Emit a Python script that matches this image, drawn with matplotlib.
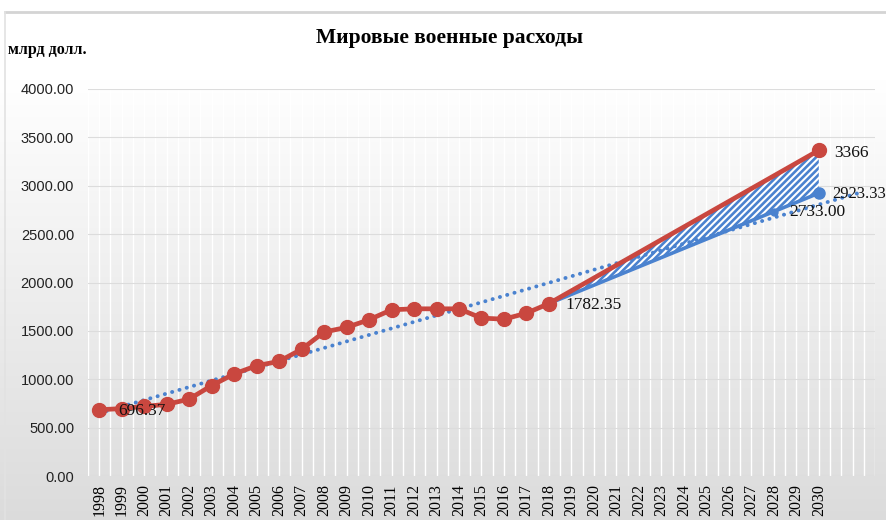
import numpy as np
import matplotlib
matplotlib.use("Agg")
import matplotlib.pyplot as plt
from matplotlib.patches import Rectangle

plt.rcParams["hatch.linewidth"] = 1.9

# ---- data ----
years = list(range(1998, 2031))
tick_labels = [str(y) for y in years]

red_years = list(range(1998, 2019)) + [2030]
red_values = [685, 696.37, 720, 740, 795, 935, 1055, 1140, 1185, 1310,
              1488, 1536, 1615, 1718, 1728, 1728, 1728, 1632, 1621, 1683,
              1782.35, 3366]

blue_years = [2018, 2028, 2030]
blue_values = [1782.35, 2733.00, 2923.33]

trend_years = [1998, 2032]
trend_values = [650, 2940]

RED = "#C9473F"
BLUE = "#4A82CF"

fig = plt.figure(figsize=(8.86, 5.2), dpi=100)

# background gradient
bg = fig.add_axes([0, 0, 1, 1], zorder=-10)
ys = np.linspace(0, 1, 520)
g = np.where(ys < 80 / 520, 1.0, 1.0 - (ys - 80 / 520) / (1 - 80 / 520) * 0.14)
img = np.repeat(g[:, None], 10, axis=1)
bg.imshow(np.dstack([img, img, img]), aspect="auto", extent=[0, 1, 0, 1], origin="upper")
bg.add_patch(Rectangle((0, 1 - 12 / 520), 1, 12 / 520, color="white", transform=bg.transAxes))
bg.plot([5 / 886, 1], [1 - 12 / 520, 1 - 12 / 520], color="#d4d4d4", lw=2, transform=bg.transAxes)
bg.plot([5 / 886, 5 / 886], [0, 1 - 12 / 520], color="#e2e2e2", lw=1.2, transform=bg.transAxes)
bg.set_xlim(0, 1); bg.set_ylim(0, 1)
bg.axis("off")

ax = fig.add_axes([88 / 886, 1 - 476 / 520, (875 - 88) / 886, (476 - 89) / 520])
ax.set_facecolor("none")

def pos(y):
    return np.asarray(y, dtype=float) - 1998

ax.set_xlim(-0.5, 34.5)
ax.set_ylim(0, 4000)

# grid
for v in np.arange(-0.5, 34.6, 0.5):
    ax.axvline(v, color="white", lw=1.0, zorder=0)
for v in range(0, 4001, 500):
    ax.axhline(v, color="#dcdcdc", lw=0.8, zorder=0.5)

# hatched region between forecasts
hx = pos([2018, 2030])
ax.fill_between(hx, [red_values[-2], red_values[-1]], [blue_values[0], blue_values[-1]],
                facecolor="white", edgecolor=BLUE, hatch="/////", lw=0, zorder=1)

# trend line
ax.plot(pos(trend_years), trend_values, color=BLUE, lw=2.8, linestyle=(0, (0.05, 1.9)),
        dash_capstyle="round", zorder=2)

# blue forecast
ax.plot(pos(blue_years), blue_values, color=BLUE, lw=2.6, zorder=3)
ax.plot(pos(blue_years[1:2]), blue_values[1:2], "o", color=BLUE, ms=5, zorder=3)
ax.plot(pos(blue_years[2:]), blue_values[2:], "o", color=BLUE, ms=8, zorder=3)

# red actual + forecast
ax.plot(pos(red_years), red_values, color=RED, lw=3.4, marker="o", ms=10, zorder=4)

# data labels
tkw = dict(family="Liberation Serif", fontsize=12.5, color="#111111", zorder=6)
ax.text(pos(1999) - 0.15, 696.37 - 20, "696.37", ha="left", va="center", **tkw)
ax.text(pos(2018) + 0.75, 1782.35 - 20, "1782.35", ha="left", va="center", **tkw)
ax.text(pos(2030) + 0.7, 3366 - 30, "3366", ha="left", va="center", **tkw)
ax.text(pos(2030) + 0.6, 2923.33 - 5, "2923.33", ha="left", va="center", clip_on=False,
        family="Liberation Serif", fontsize=12, color="#111111", zorder=6)
ax.text(pos(2028) + 0.7, 2733.00 - 5, "2733.00", ha="left", va="center", **tkw)

# axes styling
for s in ax.spines.values():
    s.set_visible(False)
ax.set_xticks(pos(years))
ax.set_xticklabels(tick_labels, rotation=90, family="Liberation Serif", fontsize=11.5)
ax.set_yticks(range(0, 4001, 500))
ax.set_yticklabels([f"{v:.2f}" for v in range(0, 4001, 500)], family="Liberation Sans",
                   fontsize=10.5, color="#222222")
ax.tick_params(length=0, pad=10)
ax.tick_params(axis="x", pad=6)

fig.text(449 / 886, 1 - 38 / 520, "Мировые военные расходы", ha="center", va="center",
         family="Liberation Serif", fontweight="bold", fontsize=15.5)
fig.text(8 / 886, 1 - 50 / 520, "млрд долл.", ha="left", va="center",
         family="Liberation Serif", fontweight="bold", fontsize=11.5)

fig.savefig("out.png", dpi=100)
